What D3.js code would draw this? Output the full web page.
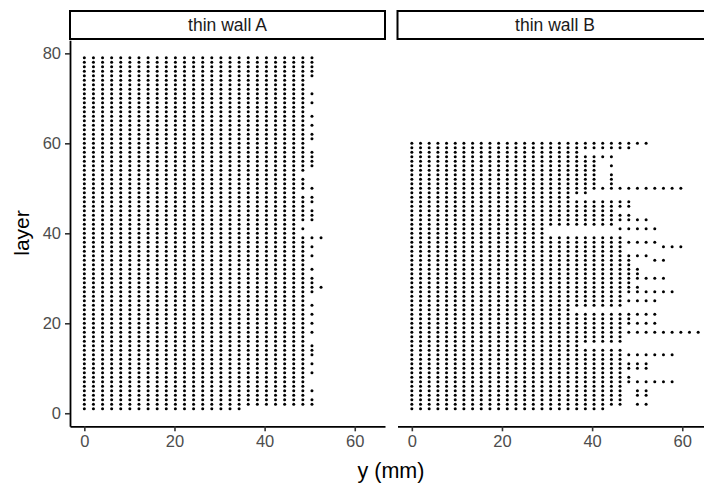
<!DOCTYPE html>
<html>
<head>
<meta charset="utf-8">
<script src="https://cdn.jsdelivr.net/npm/d3@7"></script>
<style>
  body { margin: 0; background: #fff; }
  text { font-family: "Liberation Sans", Arial, sans-serif; }
</style>
</head>
<body>
<svg width="704" height="486"></svg>
<script>
// facet labels
var facets = ["thin wall A", "thin wall B"];

// deposition track positions along y (mm), one entry per column index
var colsA = [0, 2.02, 4.04, 6.06, 8.08, 10.1, 12.12, 14.14, 16.16, 18.18, 20.2, 22.22, 24.24, 26.26,
             28.28, 30.3, 32.32, 34.34, 36.36, 38.38, 40.4, 42.42, 44.44, 46.46, 48.48, 50.5, 52.52];
var colsB = [0, 1.93, 3.85, 5.78, 7.7, 9.63, 11.55, 13.48, 15.4, 17.33, 19.25, 21.18, 23.1, 25.03,
             26.95, 28.88, 30.8, 32.73, 34.65, 36.58, 38.5, 40.43, 42.35, 44.28, 46.2, 48.13, 50.05,
             51.98, 53.9, 55.83, 57.75, 59.68, 61.6, 63.53];

// [layer, column indices present]
var rowsA = [
  [79, "0-25"], [78, "0-25"], [77, "0-25"], [76, "0-25"], [75, "0-25"], [74, "0-24"], [73, "0-24"],
  [72, "0-24"], [71, "0-25"], [70, "0-24"], [69, "0-25"], [68, "0-24"], [67, "0-24"], [66, "0-25"],
  [65, "0-24"], [64, "0-25"], [63, "0-24"], [62, "0-25"], [61, "0-25"], [60, "0-24"], [59, "0-24"],
  [58, "0-25"], [57, "0-25"], [56, "0-25"], [55, "0-25"], [54, "0-24"], [53, "0-23"], [52, "0-24"],
  [51, "0-24"], [50, "0-25"], [49, "0-23"], [48, "0-25"], [47, "0-25"], [46, "0-24"], [45, "0-25"],
  [44, "0-25"], [43, "0-25"], [42, "0-23"], [41, "0-24"], [40, "0-23"], [39, "0-26"], [38, "0-24"],
  [37, "0-25"], [36, "0-24"], [35, "0-25"], [34, "0-24"], [33, "0-24"], [32, "0-25"], [31, "0-24"],
  [30, "0-25"], [29, "0-25"], [28, "0-26"], [27, "0-25"], [26, "0-24"], [25, "0-24"], [24, "0-25"],
  [23, "0-24"], [22, "0-25"], [21, "0-24"], [20, "0-25"], [19, "0-24"], [18, "0-25"], [17, "0-24"],
  [16, "0-24"], [15, "0-25"], [14, "0-25"], [13, "0-25"], [12, "0-24"], [11, "0-25"], [10, "0-24"],
  [9, "0-25"], [8, "0-24"], [7, "0-24"], [6, "0-24"], [5, "0-25"], [4, "0-24"], [3, "0-25"],
  [2, "0-25"], [1, "0-17"]
];
var rowsB = [
  [60, "0-27"], [59, "0-25"], [58, "0-19"], [57, "0-23"], [56, "0-21"], [55, "0-21,23"],
  [54, "0-21"], [53, "0-21,23"], [52, "0-21,23"], [51, "0-21,23"], [50, "0-31"], [49, "0-20"],
  [48, "0-18"], [47, "0-25"], [46, "0-25"], [45, "0-23"], [44, "0-25"], [43, "0-27"],
  [42, "0-23"], [41, "0-15,24-28"], [40, "0-15"], [39, "0-24"], [38, "0-28"], [37, "0-24,29-31"],
  [36, "0-24"], [35, "0-27"], [34, "0-25,28-29"], [33, "0-25"], [32, "0-26"], [31, "0-26"],
  [30, "0-29"], [29, "0-25"], [28, "0-26"], [27, "0-30"], [26, "0-24"], [25, "0-28"],
  [24, "0-24"], [23, "0-18"], [22, "0-28"], [21, "0-25"], [20, "0-28"], [19, "0-24"],
  [18, "0-33"], [17, "0-24"], [16, "0-24"], [15, "0-19"], [14, "0-24"], [13, "0-30"],
  [12, "0-24"], [11, "0-27"], [10, "0-27"], [9, "0-24"], [8, "0-25"], [7, "0-30"],
  [6, "0-24"], [5, "0-24,26-27"], [4, "0-24,26-27"], [3, "0-24"], [2, "0-24,26-27"], [1, "0-22"]
];

var xTicks = [0, 20, 40, 60];
var yTicks = [0, 20, 40, 60, 80];

function expand(rows, cols)
{
  var pts = [];
  rows.forEach(function(r)
  {
    r[1].split(",").forEach(function(part)
    {
      var ab = part.split("-").map(Number);
      var hi = ab.length > 1 ? ab[1] : ab[0];
      for (var k = ab[0]; k <= hi; k++)
        pts.push({ y: cols[k], layer: r[0] });
    });
  });
  return pts;
}

var panels = [
  { name: facets[0], left: 70, pts: expand(rowsA, colsA) },
  { name: facets[1], left: 397.5, pts: expand(rowsB, colsB) }
];

var svg = d3.select("svg");
var pw = 315, ph = 386, panelTop = 40.3;

var x = d3.scaleLinear().domain([-3.18, 66.71]).range([0, pw]);
var y = d3.scaleLinear().domain([-2.9, 82.9]).range([ph, 0]);

svg.append("rect").attr("width", 704).attr("height", 486).attr("fill", "#fff");

panels.forEach(function(p, i)
{
  // strip
  svg.append("rect")
     .attr("x", p.left).attr("y", 11)
     .attr("width", pw).attr("height", 28)
     .attr("fill", "#fff").attr("stroke", "#000").attr("stroke-width", 2);
  svg.append("text")
     .attr("x", p.left + pw / 2).attr("y", 25)
     .attr("dy", "0.35em")
     .attr("text-anchor", "middle")
     .attr("font-size", 17.5)
     .attr("fill", "#1A1A1A")
     .text(p.name);

  var g = svg.append("g").attr("transform", "translate(" + p.left + "," + panelTop + ")");

  g.selectAll("circle")
   .data(p.pts)
   .enter()
   .append("circle")
   .attr("cx", function(d) { return x(d.y); })
   .attr("cy", function(d) { return y(d.layer); })
   .attr("r", 1.5)
   .attr("fill", "#000");

  var xa = g.append("g")
            .attr("transform", "translate(0," + ph + ")")
            .call(d3.axisBottom(x).tickValues(xTicks).tickSizeInner(5).tickSizeOuter(0).tickPadding(4));
  styleAxis(xa);

  if (i == 0)
  {
    var ya = g.append("g")
              .call(d3.axisLeft(y).tickValues(yTicks).tickSizeInner(5).tickSizeOuter(0).tickPadding(4));
    styleAxis(ya);
  }
});

function styleAxis(a)
{
  a.select(".domain").attr("stroke", "#000").attr("stroke-width", 1.8);
  a.selectAll(".tick line").attr("stroke", "#333").attr("stroke-width", 1.6);
  a.selectAll(".tick text")
   .attr("fill", "#4D4D4D")
   .attr("font-size", 16.5)
   .style("font-family", "'Liberation Sans', Arial, sans-serif");
}

svg.append("text")
   .attr("x", 391).attr("y", 478)
   .attr("text-anchor", "middle")
   .attr("font-size", 21.5)
   .attr("fill", "#000")
   .text("y (mm)");

svg.append("text")
   .attr("transform", "translate(29,233) rotate(-90)")
   .attr("text-anchor", "middle")
   .attr("font-size", 21)
   .attr("fill", "#000")
   .text("layer");
</script>
</body>
</html>
